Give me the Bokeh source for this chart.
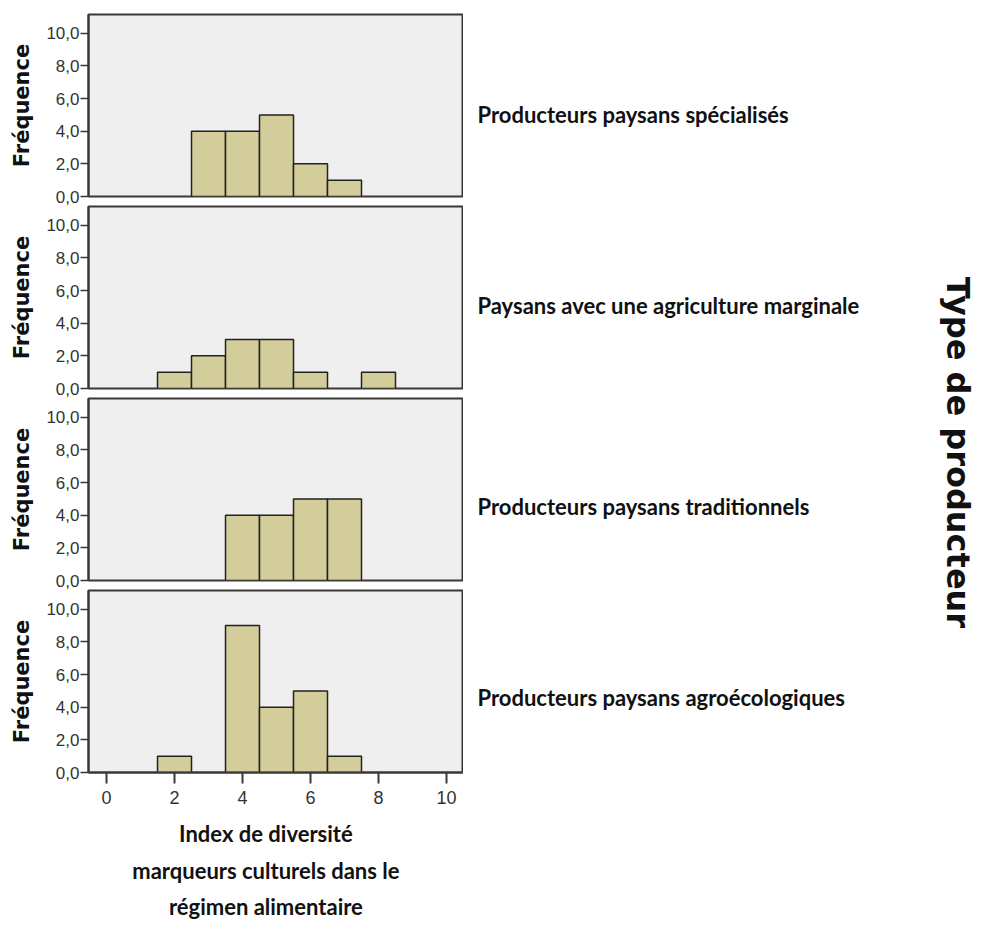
import math
from bokeh.plotting import figure
from bokeh.models import Label, FixedTicker, Range1d
from bokeh.layouts import column, row
from bokeh.embed import file_html
from bokeh.resources import INLINE

# ---- data ----
groups = [
    "Producteurs paysans spécialisés",
    "Paysans avec une agriculture marginale",
    "Producteurs paysans traditionnels",
    "Producteurs paysans agroécologiques",
]
spec_x = [3, 4, 5, 6, 7]
spec_counts = [4, 4, 5, 2, 1]
marg_x = [2, 3, 4, 5, 6, 8]
marg_counts = [1, 2, 3, 3, 1, 1]
trad_x = [4, 5, 6, 7]
trad_counts = [4, 4, 5, 5]
agro_x = [2, 4, 5, 6, 7]
agro_counts = [1, 9, 4, 5, 1]

y_ticks = [0, 2, 4, 6, 8, 10]
y_tick_labels = ["0,0", "2,0", "4,0", "6,0", "8,0", "10,0"]
x_ticks = [0, 2, 4, 6, 8, 10]
x_tick_labels = ["0", "2", "4", "6", "8", "10"]

y_label = "Fréquence"
x_title_lines = ["Index de diversité", "marqueurs culturels dans le", "régimen alimentaire"]
facet_title = "Type de producteur"

series = [(spec_x, spec_counts), (marg_x, marg_counts), (trad_x, trad_counts), (agro_x, agro_counts)]

# ---- style ----
BG = "#efefef"
BAR = "#d3cd9b"
EDGE = "#222222"
FRAME = "#383838"
NARROW = "Lato"
TICKFONT = "Liberation Sans"
TXT = "#111111"

BL, FRAME_W = 88, 375
LEFT_W = BL + FRAME_W
FRAME_H = 182
TOTAL_H = 935
RIGHT_W = 983 - LEFT_W - 2


def blank(width, height, y_flip_height):
    f = figure(width=width, height=height, x_range=Range1d(0, width),
               y_range=Range1d(y_flip_height, 0), x_axis_type=None, y_axis_type=None,
               output_backend="svg", toolbar_location=None, min_border=0)
    f.outline_line_color = None
    f.xgrid.visible = False
    f.ygrid.visible = False
    return f


figs = []
for i, (xs, cs) in enumerate(series):
    last = i == 3
    top_b = 14 if i == 0 else 1
    bot_b = 40 if last else 9
    kw = {} if last else {"x_axis_location": None}
    p = figure(width=LEFT_W, height=top_b + FRAME_H + bot_b,
               x_range=Range1d(-0.53, 10.5), y_range=Range1d(0, 11.15),
               output_backend="svg", toolbar_location=None,
               min_border_left=BL, min_border_right=0,
               min_border_top=top_b, min_border_bottom=bot_b, **kw)
    p.background_fill_color = BG
    p.border_fill_color = "white"
    p.outline_line_color = FRAME
    p.outline_line_width = 2
    p.xgrid.visible = False
    p.ygrid.visible = False

    p.vbar(x=xs, width=1, top=cs, bottom=0, fill_color=BAR, line_color=EDGE, line_width=1.5)

    ya = p.yaxis[0]
    ya.ticker = FixedTicker(ticks=y_ticks)
    ya.major_label_overrides = dict(zip(y_ticks, y_tick_labels))
    ya.minor_tick_line_color = None
    ya.major_tick_in = 0
    ya.major_tick_out = 8
    ya.major_tick_line_color = FRAME
    ya.major_tick_line_width = 1.5
    ya.axis_line_color = FRAME
    ya.axis_line_width = 2
    ya.major_label_text_font = TICKFONT
    ya.major_label_text_font_size = "17px"
    ya.major_label_text_color = "#333333"
    ya.major_label_standoff = 1
    ya.axis_label = y_label
    ya.axis_label_text_font = "DejaVu Sans"
    ya.axis_label_text_font_style = "bold"
    ya.axis_label_text_font_size = "21px"
    ya.axis_label_text_color = TXT
    ya.axis_label_standoff = 9

    if last:
        xa = p.xaxis[0]
        xa.ticker = FixedTicker(ticks=x_ticks)
        xa.major_label_overrides = dict(zip(x_ticks, x_tick_labels))
        xa.minor_tick_line_color = None
        xa.major_tick_in = 0
        xa.major_tick_out = 11
        xa.major_tick_line_color = FRAME
        xa.major_tick_line_width = 2
        xa.axis_line_color = FRAME
        xa.axis_line_width = 2
        xa.major_label_text_font = TICKFONT
        xa.major_label_text_font_size = "18px"
        xa.major_label_text_color = "#333333"
        xa.major_label_standoff = 7
    figs.append(p)

used_h = sum(f.height for f in figs)
title_h = TOTAL_H - used_h
xt = blank(LEFT_W, title_h, title_h)
for line, yy in zip(x_title_lines, [833, 870, 906]):
    xt.add_layout(Label(x=219, y=yy - used_h, text=line, text_align="center",
                        text_baseline="middle", text_font=NARROW,
                        text_font_style="bold", text_font_size="22px", text_color=TXT))

right = blank(RIGHT_W, TOTAL_H, TOTAL_H)
for name, yy in zip(groups, [114, 305, 506, 697]):
    right.add_layout(Label(x=477 - LEFT_W, y=yy, text=name, text_align="left",
                           text_baseline="middle", text_font=NARROW,
                           text_font_style="bold", text_font_size="22px", text_color=TXT))
right.add_layout(Label(x=957 - LEFT_W, y=452, text=facet_title, angle=-math.pi / 2,
                       text_align="center", text_baseline="middle",
                       text_font="DejaVu Sans", text_font_style="bold",
                       text_font_size="32px", text_color=TXT))

layout = row(column(*figs, xt), right)
open("out.html", "w").write(file_html(layout, INLINE))
